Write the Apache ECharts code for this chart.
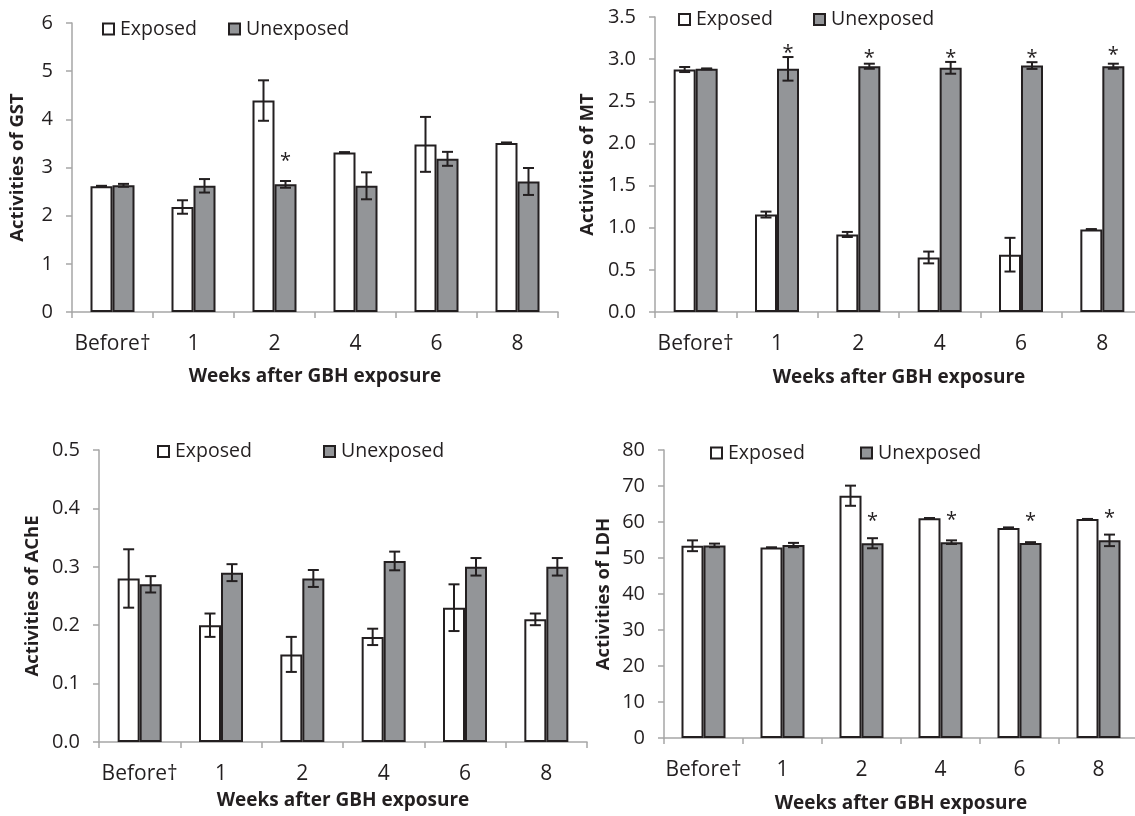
<!DOCTYPE html>
<html>
<head>
<meta charset="utf-8">
<script src="https://cdn.jsdelivr.net/npm/echarts@6/dist/echarts.min.js"></script>
<style>html,body{margin:0;padding:0;background:#fff}#c{width:1135px;height:816px}</style>
</head>
<body>
<div id="c"></div>
<script>
const categories = ['Before\u2020', '1', '2', '4', '6', '8'];

const gstExposed = [2.61, 2.18, 4.39, 3.31, 3.48, 3.51];
const gstExposedErr = [0.01, 0.14, 0.42, 0.01, 0.57, 0.01];
const gstUnexposed = [2.63, 2.62, 2.65, 2.62, 3.18, 2.71];
const gstUnexposedErr = [0.03, 0.14, 0.07, 0.28, 0.145, 0.28];
const gstStar = [null, null, 3.23, null, null, null];

const mtExposed = [2.877, 1.156, 0.92, 0.647, 0.68, 0.979];
const mtExposedErr = [0.03, 0.035, 0.03, 0.07, 0.2, 0.005];
const mtUnexposed = [2.885, 2.885, 2.916, 2.897, 2.924, 2.916];
const mtUnexposedErr = [0.005, 0.14, 0.03, 0.07, 0.04, 0.03];
const mtStar = [null, 3.13, 3.07, 3.07, 3.07, 3.11];

const acheExposed = [0.28, 0.20, 0.15, 0.18, 0.23, 0.21];
const acheExposedErr = [0.05, 0.02, 0.03, 0.014, 0.04, 0.01];
const acheUnexposed = [0.27, 0.29, 0.28, 0.31, 0.30, 0.30];
const acheUnexposedErr = [0.014, 0.0145, 0.0145, 0.016, 0.015, 0.015];
const acheStar = [null, null, null, null, null, null];

const ldhExposed = [53.4, 52.9, 67.3, 61.05, 58.3, 60.8];
const ldhExposedErr = [1.5, 0.05, 2.8, 0.05, 0.2, 0.05];
const ldhUnexposed = [53.5, 53.6, 54.1, 54.4, 54.2, 54.9];
const ldhUnexposedErr = [0.5, 0.6, 1.4, 0.5, 0.2, 1.6];
const ldhStar = [null, null, 61.7, 61.9, 61.5, 62.5];

const yTitles = ['Activities of GST', 'Activities of MT', 'Activities of AChE', 'Activities of LDH'];
const xTitle = 'Weeks after GBH exposure';

const FONT = 'Open Sans';
const DARK = '#231f20';
const GREY = '#939598';
const AXIS = '#a6a6a6';
const BW = 22;

const panels = [
  {exp: gstExposed, expErr: gstExposedErr, un: gstUnexposed, unErr: gstUnexposedErr, star: gstStar,
   grid: {left: 72, top: 23, width: 486, height: 289}, y: {min: 0, max: 6, interval: 1, dec: 0},
   yGap: 45, xGap: 55, legend: [101, 227], legY: 29},
  {exp: mtExposed, expErr: mtExposedErr, un: mtUnexposed, unErr: mtUnexposedErr, star: mtStar,
   grid: {left: 655, top: 17, width: 488, height: 295}, y: {min: 0, max: 3.5, interval: 0.5, dec: 1},
   yGap: 58, xGap: 56, legend: [677, 812], legY: 19.5},
  {exp: acheExposed, expErr: acheExposedErr, un: acheUnexposed, unErr: acheUnexposedErr, star: acheStar,
   grid: {left: 99, top: 450, width: 488, height: 292}, y: {min: 0, max: 0.5, interval: 0.1, dec: 1},
   yGap: 57, xGap: 49, legend: [156, 322], legY: 451.5},
  {exp: ldhExposed, expErr: ldhExposedErr, un: ldhUnexposed, unErr: ldhUnexposedErr, star: ldhStar,
   grid: {left: 664, top: 450, width: 474, height: 288}, y: {min: 0, max: 80, interval: 10, dec: 0},
   yGap: 51, xGap: 56, legend: [709, 859], legY: 453}
];

const grids = [], xAxes = [], yAxes = [], series = [], legends = [];

function errSeries(gi, means, errs, side) {
  return {
    type: 'custom', xAxisIndex: gi, yAxisIndex: gi, z: 5, silent: true,
    data: means.map((m, i) => [i, m, errs[i]]),
    renderItem: function (params, api) {
      const i = api.value(0), m = api.value(1), e = api.value(2);
      const c = api.coord([i, m]);
      const x = c[0] + side * BW / 2;
      const yt = api.coord([i, m + e])[1];
      const yb = api.coord([i, m - e])[1];
      const cap = 5.5;
      const st = {stroke: DARK, lineWidth: 2};
      return {type: 'group', children: [
        {type: 'line', shape: {x1: x, y1: yt, x2: x, y2: yb}, style: st},
        {type: 'line', shape: {x1: x - cap, y1: yt, x2: x + cap, y2: yt}, style: st},
        {type: 'line', shape: {x1: x - cap, y1: yb, x2: x + cap, y2: yb}, style: st}
      ]};
    }
  };
}

panels.forEach((p, gi) => {
  grids.push(Object.assign({outerBoundsMode: 'none', containLabel: false}, p.grid));
  xAxes.push({
    type: 'category', gridIndex: gi, data: categories,
    name: xTitle, nameLocation: 'middle', nameGap: p.xGap,
    nameTextStyle: {fontFamily: FONT, fontWeight: 'bold', fontSize: 19, color: DARK},
    axisLine: {lineStyle: {color: AXIS, width: 1.5}},
    axisTick: {show: true, inside: false, length: 6, lineStyle: {color: AXIS, width: 1.5}},
    axisLabel: {fontFamily: FONT, fontSize: 21, color: DARK, margin: 22, interval: 0}
  });
  yAxes.push({
    type: 'value', gridIndex: gi, min: p.y.min, max: p.y.max, interval: p.y.interval,
    name: yTitles[gi], nameLocation: 'middle', nameGap: p.yGap, nameRotate: 90,
    nameTextStyle: {fontFamily: FONT, fontWeight: 'bold', fontSize: 18.5, color: DARK},
    splitLine: {show: false},
    axisLine: {show: true, lineStyle: {color: AXIS, width: 1.5}},
    axisTick: {show: true, inside: false, length: 6, lineStyle: {color: AXIS, width: 1.5}},
    axisLabel: {fontFamily: FONT, fontSize: 20, color: DARK, margin: 19,
      formatter: v => v.toFixed(p.y.dec)}
  });
  series.push({
    name: 'Exposed', type: 'bar', xAxisIndex: gi, yAxisIndex: gi, data: p.exp,
    barWidth: BW, barGap: '0%',
    itemStyle: {color: '#ffffff', borderColor: DARK, borderWidth: 2}
  });
  series.push({
    name: 'Unexposed', type: 'bar', xAxisIndex: gi, yAxisIndex: gi, data: p.un,
    barWidth: BW, barGap: '0%',
    itemStyle: {color: GREY, borderColor: DARK, borderWidth: 2}
  });
  series.push(errSeries(gi, p.exp, p.expErr, -1));
  series.push(errSeries(gi, p.un, p.unErr, 1));
  const starData = p.star.map((s, i) => s == null ? null : [i, s]).filter(d => d);
  series.push({
    type: 'custom', xAxisIndex: gi, yAxisIndex: gi, z: 6, silent: true,
    data: starData,
    renderItem: function (params, api) {
      const c = api.coord([api.value(0), api.value(1)]);
      return {type: 'text', x: c[0] + BW / 2, y: c[1] + 5,
        style: {text: '*', fontFamily: FONT, fontSize: 20, fill: DARK, align: 'center', verticalAlign: 'middle'}};
    }
  });
  ['Exposed', 'Unexposed'].forEach((nm, k) => {
    legends.push({
      data: [nm], left: p.legend[k] + 1, top: p.legY - 10, padding: 0,
      itemWidth: 11, itemHeight: 11, icon: 'rect', selectedMode: false,
      itemStyle: {borderColor: DARK, borderWidth: 2},
      textStyle: {fontFamily: FONT, fontSize: 19.5, color: DARK, lineHeight: 20, padding: [0, 0, 0, 1]}
    });
  });
});

const chart = echarts.init(document.getElementById('c'), null, {renderer: 'canvas'});
chart.setOption({
  animation: false,
  backgroundColor: '#ffffff',
  grid: grids, xAxis: xAxes, yAxis: yAxes, legend: legends, series: series
});
</script>
</body>
</html>
